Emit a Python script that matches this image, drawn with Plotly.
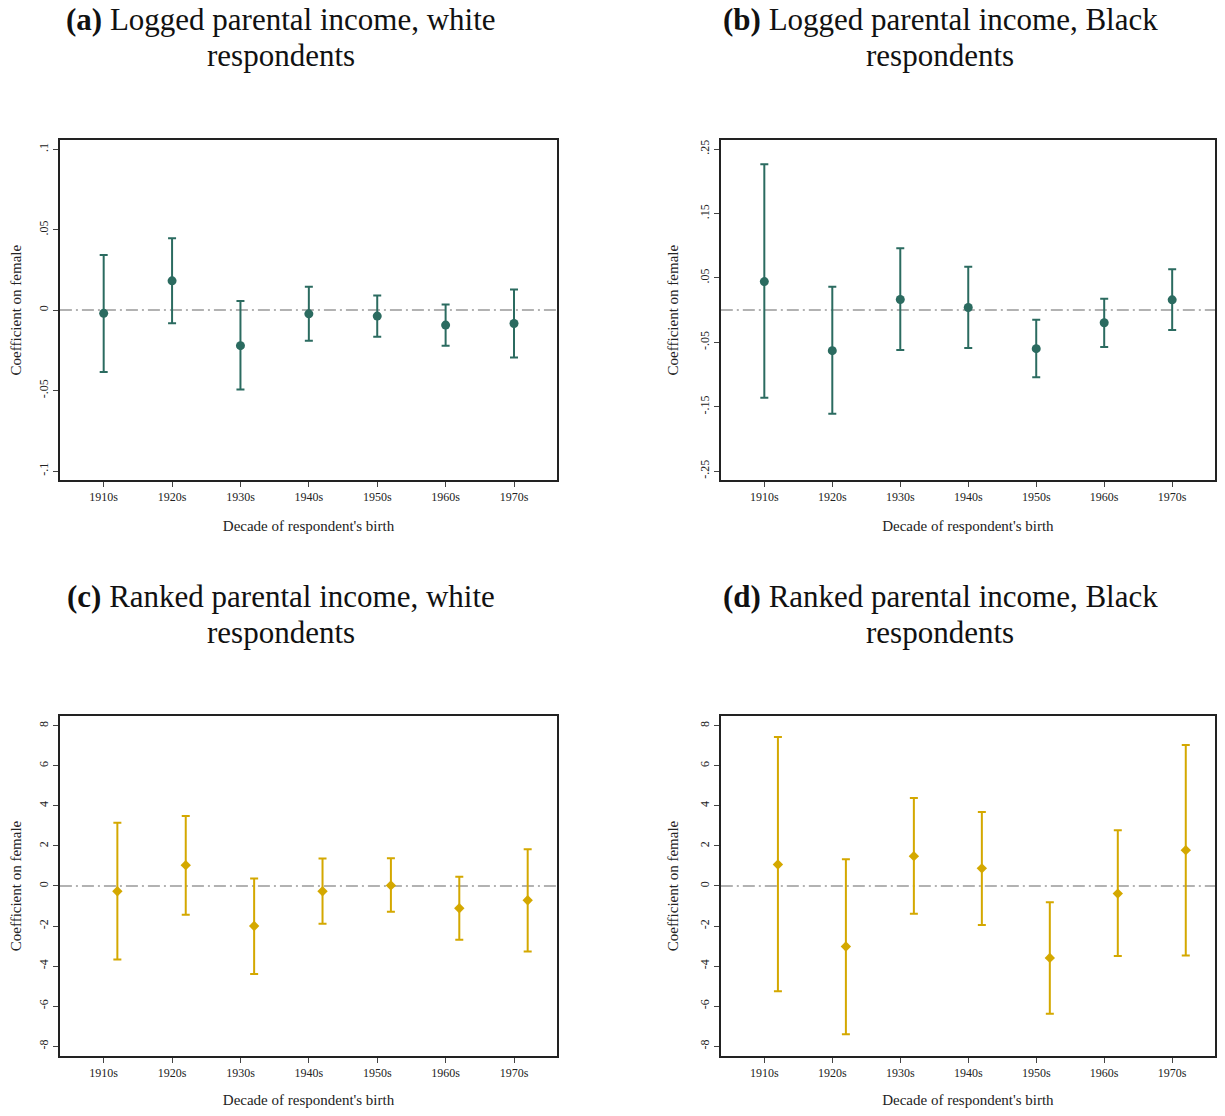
import plotly.graph_objects as go

decades = [1910, 1920, 1930, 1940, 1950, 1960, 1970]
decade_labels = ["1910s", "1920s", "1930s", "1940s", "1950s", "1960s", "1970s"]

# Panel (a): logged parental income, white respondents
a_coef = [-0.0020, 0.0182, -0.0221, -0.0023, -0.0037, -0.0093, -0.0083]
a_hi = [0.0343, 0.0446, 0.0056, 0.0145, 0.0091, 0.0035, 0.0128]
a_lo = [-0.0384, -0.0081, -0.0494, -0.0190, -0.0165, -0.0221, -0.0295]

# Panel (b): logged parental income, Black respondents
b_coef = [0.0443, -0.0629, 0.0165, 0.0041, -0.0598, -0.0196, 0.0160]
b_hi = [0.2263, 0.0361, 0.0959, 0.0675, -0.0149, 0.0175, 0.0634]
b_lo = [-0.1360, -0.1608, -0.0619, -0.0588, -0.1041, -0.0572, -0.0309]

# Panel (c): ranked parental income, white respondents
c_coef = [-0.26, 1.04, -2.00, -0.26, 0.03, -1.11, -0.71]
c_hi = [3.16, 3.50, 0.38, 1.37, 1.39, 0.46, 1.83]
c_lo = [-3.67, -1.44, -4.40, -1.88, -1.29, -2.68, -3.27]

# Panel (d): ranked parental income, Black respondents
d_coef = [1.07, -3.02, 1.49, 0.88, -3.59, -0.38, 1.79]
d_hi = [7.44, 1.34, 4.40, 3.70, -0.81, 2.78, 7.04]
d_lo = [-5.26, -7.40, -1.39, -1.95, -6.38, -3.50, -3.47]

title_line1 = [
    "<b>(a)</b> Logged parental income, white",
    "<b>(b)</b> Logged parental income, Black",
    "<b>(c)</b> Ranked parental income, white",
    "<b>(d)</b> Ranked parental income, Black",
]
title_line2 = ["respondents", "respondents", "respondents", "respondents"]

log_white_ticks = [-0.1, -0.05, 0, 0.05, 0.1]
log_white_text = ["-.1", "-.05", "0", ".05", ".1"]
log_black_ticks = [-0.25, -0.15, -0.05, 0.05, 0.15, 0.25]
log_black_text = ["-.25", "-.15", "-.05", ".05", ".15", ".25"]
rank_ticks = [-8, -6, -4, -2, 0, 2, 4, 6, 8]
rank_text = ["-8", "-6", "-4", "-2", "0", "2", "4", "6", "8"]

TEAL = "#2b6b60"
GOLD = "#d4a800"
FONT = "Liberation Serif"
OFF = 8  # page body margin
W, H = 1225 - 2 * OFF, 1116 - 2 * OFF


def px_x(sx):
    return min(1.0, max(0.0, (sx - OFF) / W))


def px_y(sy):
    return min(1.0, max(0.0, 1 - (sy - OFF) / H))


panels = [
    dict(coef=a_coef, hi=a_hi, lo=a_lo, shift=0, color=TEAL, symbol="circle", size=9,
         tv=log_white_ticks, tt=log_white_text, yr=[-0.1055, 0.1055],
         px=(60, 558), py=(140, 481), title_x=281, title_y=(19, 55)),
    dict(coef=b_coef, hi=b_hi, lo=b_lo, shift=0, color=TEAL, symbol="circle", size=9,
         tv=log_black_ticks, tt=log_black_text, yr=[-0.2635, 0.2635],
         px=(722, 1218), py=(140, 481), title_x=942, title_y=(19, 55)),
    dict(coef=c_coef, hi=c_hi, lo=c_lo, shift=2, color=GOLD, symbol="diamond", size=8,
         tv=rank_ticks, tt=rank_text, yr=[-8.5, 8.5],
         px=(60, 558), py=(718, 1060), title_x=281, title_y=(598, 634)),
    dict(coef=d_coef, hi=d_hi, lo=d_lo, shift=2, color=GOLD, symbol="diamond", size=8,
         tv=rank_ticks, tt=rank_text, yr=[-8.5, 8.5],
         px=(722, 1218), py=(718, 1060), title_x=942, title_y=(598, 634)),
]

fig = go.Figure()
layout = dict(
    width=W, height=H, margin=dict(l=0, r=0, t=0, b=0),
    paper_bgcolor="white", plot_bgcolor="white", showlegend=False,
    font=dict(family=FONT, color="#222"),
)
annotations = []
shapes = []

for i, p in enumerate(panels):
    n = i + 1
    xa = "x" if n == 1 else f"x{n}"
    ya = "y" if n == 1 else f"y{n}"
    xs = [d + p["shift"] for d in decades]
    plus = [h - c for h, c in zip(p["hi"], p["coef"])]
    minus = [c - l for c, l in zip(p["coef"], p["lo"])]
    fig.add_trace(go.Scatter(
        x=xs, y=p["coef"], mode="markers", xaxis=xa, yaxis=ya,
        marker=dict(color=p["color"], symbol=p["symbol"], size=p["size"]),
        error_y=dict(type="data", array=plus, arrayminus=minus, symmetric=False,
                     color=p["color"], thickness=2, width=4),
    ))
    x0, x1 = p["px"]
    y0, y1 = p["py"]
    axis_common = dict(
        showgrid=False, zeroline=False, showline=True, mirror=True,
        linecolor="#222", linewidth=1.5, ticks="outside", ticklen=5,
        tickcolor="#444", tickwidth=1,
        tickfont=dict(family=FONT, size=12, color="#222"),
    )
    layout["xaxis" if n == 1 else f"xaxis{n}"] = dict(
        axis_common, domain=[px_x(x0), px_x(x1)], anchor=ya,
        range=[1903.6, 1976.3], tickmode="array", tickvals=decades,
        ticktext=decade_labels,
        title=dict(text="Decade of respondent's birth",
                   font=dict(family=FONT, size=15, color="#222"), standoff=17),
    )
    layout["yaxis" if n == 1 else f"yaxis{n}"] = dict(
        axis_common, domain=[px_y(y1), px_y(y0)], anchor=xa,
        range=p["yr"], tickmode="array", tickvals=p["tv"], ticktext=p["tt"],
        tickangle=-90,
        title=dict(text="Coefficient on female",
                   font=dict(family=FONT, size=15, color="#222"), standoff=16),
    )
    shapes.append(dict(
        type="line", xref=f"{xa} domain", yref=ya, x0=0, x1=1, y0=0, y1=0,
        line=dict(color="#999999", width=1.5, dash="12px,4px,2px,4px"),
        layer="below",
    ))
    for line_text, ty in zip((title_line1[i], title_line2[i]), p["title_y"]):
        annotations.append(dict(
            text=line_text, x=px_x(p["title_x"]), y=px_y(ty),
            xref="paper", yref="paper", xanchor="center", yanchor="middle",
            showarrow=False, align="center",
            font=dict(family=FONT, size=31, color="#111"),
        ))

layout["annotations"] = annotations
layout["shapes"] = shapes
fig.update_layout(**layout)
fig.write_html("out.html")
